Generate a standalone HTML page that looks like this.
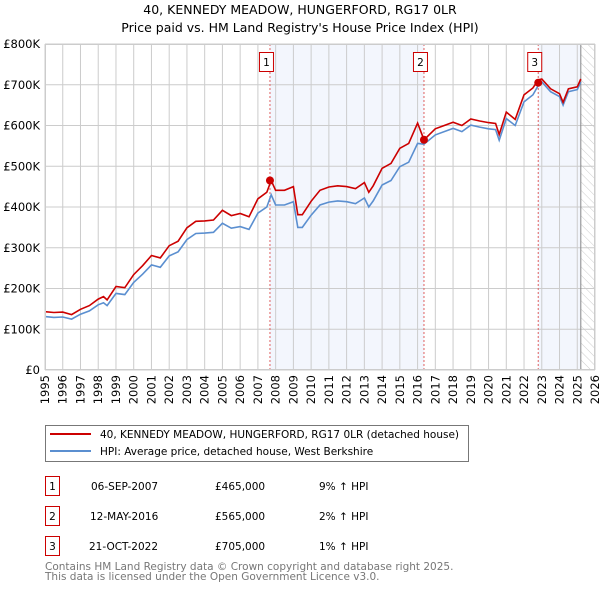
<!DOCTYPE html>
<html><head><meta charset="utf-8"><style>
body{margin:0;background:#fff;font-family:"DejaVu Sans","Liberation Sans",sans-serif;}
svg text{font-family:"DejaVu Sans","Liberation Sans",sans-serif;}
</style></head><body>
<svg id="c" width="600" height="590" xmlns="http://www.w3.org/2000/svg">
<defs><pattern id="hatch" width="6" height="6" patternUnits="userSpaceOnUse" patternTransform="rotate(-45)"><line x1="0" y1="0" x2="0" y2="6" stroke="#ccc" stroke-width="1"/></pattern></defs>
<text x="300" y="14" font-size="12.5" text-anchor="middle">40, KENNEDY MEADOW, HUNGERFORD, RG17 0LR</text>
<text x="300" y="32" font-size="12.5" text-anchor="middle">Price paid vs. HM Land Registry's House Price Index (HPI)</text>
<g id="plot"></g>
<rect x="45.5" y="425.5" width="423" height="36" fill="#fff" stroke="#777"/>
<line x1="50" y1="434" x2="91" y2="434" stroke="#cc0000" stroke-width="2"/>
<text x="100" y="438" font-size="10.5">40, KENNEDY MEADOW, HUNGERFORD, RG17 0LR (detached house)</text>
<line x1="50" y1="451" x2="91" y2="451" stroke="#5b8fd0" stroke-width="2"/>
<text x="100" y="455" font-size="10.5">HPI: Average price, detached house, West Berkshire</text>
<g font-size="10.5">
<rect x="45.5" y="476.5" width="14" height="19" fill="#fff" stroke="#cc0000"/><text x="52.5" y="490" text-anchor="middle">1</text>
<text x="91" y="490">06-SEP-2007</text><text x="215" y="490">£465,000</text><text x="319" y="490">9% ↑ HPI</text>
<rect x="45.5" y="506.5" width="14" height="19" fill="#fff" stroke="#cc0000"/><text x="52.5" y="520" text-anchor="middle">2</text>
<text x="90" y="520">12-MAY-2016</text><text x="215" y="520">£565,000</text><text x="319" y="520">2% ↑ HPI</text>
<rect x="45.5" y="536.5" width="14" height="19" fill="#fff" stroke="#cc0000"/><text x="52.5" y="550" text-anchor="middle">3</text>
<text x="89" y="550">21-OCT-2022</text><text x="215" y="550">£705,000</text><text x="319" y="550">1% ↑ HPI</text>
</g>
<text x="45" y="570" font-size="10.5" fill="#777">Contains HM Land Registry data © Crown copyright and database right 2025.</text>
<text x="45" y="580" font-size="10.5" fill="#777">This data is licensed under the Open Government Licence v3.0.</text>
</svg>
<script>
const years=[1995,1995.5,1996,1996.5,1997,1997.5,1998,1998.3,1998.5,1999,1999.5,2000,2000.5,2001,2001.5,2002,2002.5,2003,2003.5,2004,2004.5,2005,2005.5,2006,2006.5,2007,2007.5,2007.75,2008,2008.5,2009,2009.25,2009.5,2010,2010.5,2011,2011.5,2012,2012.5,2013,2013.25,2013.5,2014,2014.5,2015,2015.5,2016,2016.36,2017,2018,2018.5,2019,2019.5,2020,2020.4,2020.6,2021,2021.5,2022,2022.5,2022.8,2023,2023.5,2024,2024.2,2024.5,2025,2025.2];
const hpi=[131,129,130,125,137,145,160,165,158,188,185,215,235,258,252,280,290,320,335,336,338,360,348,352,345,385,400,430,405,405,413,350,350,380,405,412,415,413,408,422,400,415,454,465,499,510,556,554,577,593,585,601,596,592,590,564,617,600,658,675,698,707,683,671,650,683,688,707];
const price=[143,141,142,136,149,158,174,180,172,205,202,234,256,281,275,305,316,349,365,366,368,392,379,384,376,420,436,465,441,441,450,381,381,414,441,449,452,450,445,460,436,452,495,507,544,556,606,565,592,608,600,616,611,607,605,578,633,615,675,692,712,714,690,678,657,690,695,714];
const saleYears=[2007.68,2016.36,2022.8];
const salePrices=[465,565,705];
const yTicks=[0,100,200,300,400,500,600,700,800];
const yTickLabels=["£0","£100K","£200K","£300K","£400K","£500K","£600K","£700K","£800K"];
const X0=45,X1=595,Y0=370,Y1=44;
const xs=y=>X0+(y-1995)/(2026-1995)*(X1-X0);
const ys=v=>Y0-v/800*(Y0-Y1);
const NS="http://www.w3.org/2000/svg";
const g=document.getElementById('plot');
function mk(t,a){const e=document.createElementNS(NS,t);for(const k in a)e.setAttribute(k,a[k]);g.appendChild(e);return e;}
let e;
e=mk('rect',{x:xs(saleYears[0]),y:Y1,width:xs(saleYears[1])-xs(saleYears[0]),height:Y0-Y1,fill:'#f3f6fd'});


e=mk('rect',{x:xs(saleYears[2]),y:Y1,width:xs(2025.2)-xs(saleYears[2]),height:Y0-Y1,fill:'#f3f6fd'});


e=mk('rect',{x:xs(2025.2),y:Y1,width:X1-xs(2025.2),height:Y0-Y1,fill:'url(#hatch)'});


for(let yr=1995;yr<=2026;yr++){
 e=mk('line',{x1:xs(yr),x2:xs(yr),y1:Y1,y2:Y0,stroke:'#ccc','stroke-width':1});
 
 
 e=mk('text',{transform:`translate(${xs(yr)+4},375) rotate(-90)`,'font-size':11.5,'text-anchor':'end'});
 e.textContent=yr;
 
 
}
yTicks.forEach((v,i)=>{
 e=mk('line',{x1:X0,x2:X1,y1:ys(v),y2:ys(v),stroke:'#ccc','stroke-width':1});
 
 
 e=mk('text',{x:40,y:ys(v)+4,'font-size':11.5,'text-anchor':'end'});
 e.textContent=yTickLabels[i];
 
 
});
e=mk('line',{x1:xs(2025.2),x2:xs(2025.2),y1:Y1,y2:Y0,stroke:'#888','stroke-width':1});


saleYears.forEach((s,i)=>{
 e=mk('line',{x1:xs(s),x2:xs(s),y1:Y1,y2:Y0,stroke:'#e06060','stroke-width':1,'stroke-dasharray':'2,2'});
 
 
});
const pts=a=>a.map((v,i)=>xs(years[i]).toFixed(1)+','+ys(v).toFixed(1)).join(' ');
e=mk('polyline',{points:pts(hpi),fill:'none',stroke:'#5b8fd0','stroke-width':1.6});


e=mk('polyline',{points:pts(price),fill:'none',stroke:'#cc0000','stroke-width':1.6});


saleYears.forEach((s,i)=>{
 e=mk('circle',{cx:xs(s),cy:ys(salePrices[i]),r:4,fill:'#cc0000'});
 
 
 const bx=xs(s)-11;
 e=mk('rect',{x:bx+0.5,y:52.5,width:14,height:19,fill:'#fff',stroke:'#cc0000'});
 
 
 e=mk('text',{x:bx+7.5,y:66,'font-size':10.5,'text-anchor':'middle'});
 e.textContent=i+1;
 
 
});
e=mk('rect',{x:X0+0.5,y:Y1+0.5,width:X1-X0-1,height:Y0-Y1-1,fill:'none',stroke:'#ccc'});


</script>
</body></html>
